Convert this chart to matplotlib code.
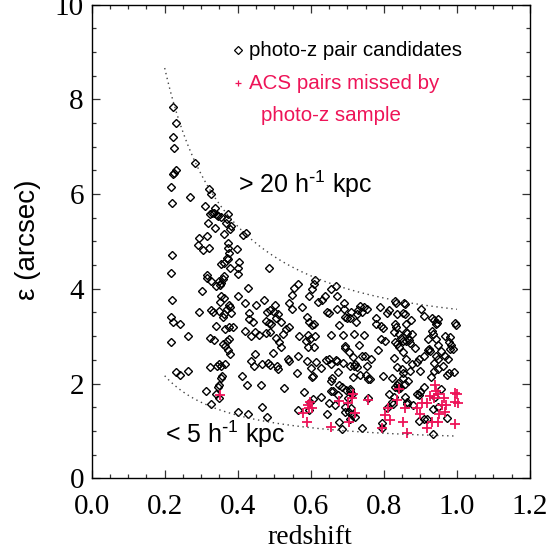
import numpy as np
import matplotlib
matplotlib.use("Agg")
import matplotlib.pyplot as plt
from matplotlib.ticker import MultipleLocator, FormatStrFormatter

# ---------------- data ----------------
# photo-z pair candidates: redshift, separation (arcsec)
pz_z = [0.223, 0.232, 0.224, 0.226, 0.282, 0.230, 0.226, 0.222, 0.217, 0.219,
        0.268, 0.221, 0.218, 0.219, 0.217, 0.223, 0.241, 0.216, 0.264, 0.230,
        0.243, 0.265,
        0.322, 0.326, 0.311, 0.338, 0.323, 0.330, 0.336, 0.344, 0.318, 0.338,
        0.316, 0.293, 0.291, 0.305, 0.320, 0.317, 0.315, 0.326, 0.340, 0.303,
        0.327, 0.332, 0.293, 0.341, 0.325, 0.335, 0.323, 0.312, 0.327, 0.340,
        0.344,
        0.353, 0.346, 0.374, 0.371, 0.369, 0.382, 0.379, 0.363, 0.374, 0.374,
        0.377, 0.370, 0.354, 0.361, 0.372, 0.378, 0.361, 0.348, 0.354, 0.351,
        0.360, 0.355, 0.361, 0.351, 0.375, 0.380, 0.371, 0.348, 0.361, 0.359,
        0.381, 0.366, 0.375, 0.388, 0.360, 0.364, 0.371, 0.375, 0.373, 0.379,
        0.350, 0.354, 0.357, 0.354, 0.350, 0.346, 0.350, 0.366,
        0.399, 0.404, 0.402, 0.400, 0.413, 0.423, 0.427, 0.400, 0.420, 0.450,
        0.473, 0.432, 0.432, 0.442, 0.420, 0.411, 0.425, 0.436, 0.445, 0.447,
        0.436, 0.447, 0.465, 0.467, 0.402, 0.428, 0.480, 0.466, 0.459, 0.476,
        0.486, 0.480, 0.489, 0.502, 0.498, 0.511, 0.505, 0.478, 0.486, 0.490,
        0.519, 0.488, 0.505, 0.513, 0.524, 0.533, 0.541, 0.518, 0.497, 0.482,
        0.488, 0.507, 0.511, 0.526, 0.541, 0.549, 0.554, 0.566, 0.548, 0.537,
        0.541, 0.563, 0.566, 0.567,
        0.577, 0.608, 0.611, 0.602, 0.596, 0.619, 0.630, 0.639, 0.656, 0.669,
        0.671, 0.643, 0.650, 0.590, 0.596, 0.603, 0.609, 0.593, 0.588, 0.599,
        0.612, 0.593, 0.610, 0.589, 0.615, 0.600, 0.606, 0.603, 0.582, 0.599,
        0.606, 0.627, 0.565, 0.596, 0.627, 0.641, 0.650, 0.654, 0.655, 0.657,
        0.654, 0.660, 0.649, 0.643,
        0.672, 0.692, 0.690, 0.693, 0.700, 0.708, 0.711, 0.677, 0.689, 0.693,
        0.693, 0.705, 0.715, 0.708, 0.689, 0.675, 0.670, 0.671, 0.678, 0.686,
        0.695, 0.706, 0.707, 0.702, 0.713, 0.674, 0.655, 0.665, 0.693, 0.711,
        0.705, 0.693, 0.713, 0.720, 0.708, 0.677, 0.684, 0.729, 0.735, 0.746,
        0.753, 0.741, 0.727, 0.725, 0.718, 0.722, 0.718, 0.727, 0.734, 0.716,
        0.746, 0.731, 0.740, 0.749, 0.753, 0.751, 0.756, 0.761, 0.756, 0.741,
        0.766,
        0.779, 0.789, 0.779, 0.793, 0.798, 0.809, 0.815, 0.830, 0.832, 0.854,
        0.857, 0.835, 0.852, 0.859, 0.793, 0.804, 0.831, 0.833, 0.828, 0.842,
        0.830, 0.835, 0.847, 0.860, 0.861, 0.852, 0.842, 0.827, 0.835, 0.798,
        0.821, 0.839, 0.835, 0.842, 0.844, 0.830, 0.814, 0.828, 0.808, 0.822,
        0.825, 0.794, 0.794, 0.839, 0.852, 0.857, 0.857, 0.864, 0.862, 0.852,
        0.850, 0.871, 0.861, 0.852, 0.785,
        0.873, 0.863, 0.869, 0.876, 0.861, 0.871, 0.885, 0.876, 0.866, 0.880,
        0.892, 0.895, 0.900, 0.900, 0.892, 0.896, 0.897, 0.910, 0.902, 0.910,
        0.921, 0.926, 0.924, 0.921, 0.931, 0.937, 0.949, 0.946, 0.942, 0.932,
        0.935, 0.943, 0.949, 0.943, 0.948, 0.955, 0.948, 0.930, 0.938, 0.919,
        0.909, 0.935, 0.934, 0.949, 0.940, 0.955, 0.936, 0.911,
        0.968, 0.981, 0.978, 0.984, 0.988, 0.976, 0.979, 0.974, 0.993, 0.995,
        0.997, 0.981, 0.974, 0.968, 0.962]
pz_sep = [7.83, 7.49, 7.21, 6.97, 6.65, 6.50, 6.44, 6.42, 6.14, 5.82,
          5.94, 4.72, 4.34, 3.76, 3.40, 3.30, 3.25, 2.88, 3.01, 2.25,
          2.18, 2.27,
          6.10, 6.01, 5.75, 5.70, 5.57, 5.60, 5.60, 5.55, 5.38, 5.28,
          5.12, 5.07, 4.92, 4.81, 4.87, 4.30, 4.23, 4.17, 4.05, 3.95,
          3.56, 3.50, 3.50, 3.22, 2.97, 2.91, 2.35, 1.84, 1.56, 1.79,
          2.38,
          5.52, 5.54, 5.57, 5.47, 5.39, 5.33, 5.26, 5.16, 4.96, 4.87,
          4.75, 4.66, 4.52, 4.55, 4.63, 4.43, 4.28, 4.16, 4.12, 4.08,
          4.20, 3.85, 3.80, 3.73, 3.65, 3.62, 3.58, 3.54, 3.46, 3.41,
          3.49, 3.15, 3.20, 3.20, 2.83, 2.80, 2.89, 2.94, 2.70, 2.62,
          2.41, 2.38, 2.16, 2.11, 1.98, 1.92, 1.69, 2.41,
          4.83, 4.57, 4.43, 4.31, 5.14, 5.17, 4.01, 3.85, 3.69, 3.65,
          3.76, 3.49, 3.36, 3.29, 3.11, 2.15, 1.97, 2.47, 2.37, 2.63,
          3.01, 3.08, 1.98, 1.51, 1.40, 1.36, 1.29, 2.41, 3.02, 3.07,
          4.43, 3.52, 3.56, 3.66, 3.52, 3.46, 3.38, 3.31, 3.28, 3.26,
          3.30, 3.08, 2.97, 2.87, 3.04, 3.15, 3.19, 2.78, 2.65, 2.43,
          2.39, 2.37, 2.30, 1.90, 3.70, 3.86, 4.02, 4.11, 3.58, 2.52,
          2.48, 2.22, 2.59, 3.00,
          3.62, 4.11, 4.18, 3.99, 3.84, 3.73, 3.77, 3.85, 3.99, 4.05,
          3.85, 3.52, 3.49, 3.40, 3.30, 3.23, 3.25, 3.03, 2.89, 2.93,
          3.00, 2.78, 2.78, 2.48, 2.46, 2.33, 2.16, 2.13, 1.83, 1.62,
          1.67, 1.72, 1.44, 1.44, 2.33, 2.50, 2.52, 2.41, 3.03, 2.11,
          2.05, 1.85, 1.59, 1.36,
          3.58, 3.70, 3.58, 3.41, 3.39, 3.38, 3.52, 3.24, 3.03, 2.79,
          2.76, 2.67, 2.56, 2.37, 2.43, 2.24, 2.50, 2.48, 1.98, 1.92,
          1.87, 1.85, 1.89, 1.70, 1.79, 1.76, 1.85, 1.55, 1.51, 1.48,
          1.40, 1.40, 1.33, 1.29, 1.25, 1.18, 1.04, 3.56, 3.64, 3.62,
          3.58, 3.52, 3.47, 3.29, 3.04, 2.41, 2.37, 2.35, 2.18, 2.13,
          3.02, 2.82, 2.59, 2.58, 2.37, 2.18, 2.09, 2.09, 1.70, 1.07,
          2.52,
          3.39, 3.62, 3.25, 3.21, 3.17, 3.49, 3.56, 3.75, 3.70, 3.71,
          3.67, 3.47, 3.49, 3.46, 2.93, 2.89, 3.25, 3.20, 3.08, 3.04,
          2.87, 2.83, 2.97, 3.08, 3.26, 2.89, 2.78, 2.53, 2.35, 2.15,
          2.12, 2.01, 1.96, 1.92, 1.90, 1.92, 1.77, 1.71, 1.49, 1.62,
          1.56, 1.16, 1.07, 1.90, 2.11, 2.00, 1.71, 1.62, 1.56, 2.22,
          2.30, 2.27, 2.52, 2.67, 2.70,
          3.35, 3.07, 2.91, 3.04, 2.89, 2.85, 2.74, 2.41, 2.06, 1.55,
          2.46, 2.51, 2.26, 1.83, 1.79, 1.76, 1.20, 1.92, 3.58, 3.43,
          2.70, 2.69, 2.73, 2.93, 3.39, 3.34, 3.36, 3.28, 3.25, 3.11,
          3.04, 2.93, 2.82, 2.59, 2.52, 2.68, 2.30, 2.13, 2.26, 1.25,
          1.25, 1.46, 0.94, 1.51, 1.71, 1.89, 2.44, 2.59,
          3.00, 2.98, 2.87, 2.82, 2.73, 2.52, 2.22, 2.18, 2.24, 3.28,
          3.24, 2.73, 1.27, 2.59, 2.37]

# ACS pairs missed by the photo-z sample
acs_z = [0.351, 0.579, 0.590, 0.593, 0.598, 0.595, 0.602, 0.654, 0.677, 0.701,
         0.713, 0.716, 0.705, 0.721, 0.756, 0.794, 0.802, 0.810, 0.818, 0.835,
         0.842, 0.852, 0.859, 0.864, 0.890, 0.900, 0.904, 0.919, 0.926, 0.919,
         0.933, 0.941, 0.943, 0.948, 0.938, 0.948, 0.952, 0.959, 0.967, 0.969,
         0.965, 0.995, 1.000, 0.994, 1.002, 0.995]
acs_sep = [1.76, 1.38, 1.19, 1.55, 1.62, 1.49, 1.48, 1.09, 1.64, 1.59,
           1.70, 1.77, 1.18, 1.38, 1.66, 1.07, 1.33, 1.49, 1.24, 1.66,
           1.89, 1.19, 1.48, 0.95, 1.48, 1.36, 1.59, 1.59, 1.74, 1.07,
           1.18, 1.96, 1.85, 1.77, 1.70, 1.18, 1.36, 1.55, 1.40, 1.55,
           1.70, 1.81, 1.79, 1.62, 1.60, 1.14]

# projected separation limits (h^-1 kpc) and the redshift range of the curves
sep_limits_kpc = [20.0, 5.0]
curve_zmin, curve_zmax = 0.2, 1.0
omega_m, omega_l = 0.3, 0.7

x_ticks = [0.0, 0.2, 0.4, 0.6, 0.8, 1.0, 1.2]
y_ticks = [0, 2, 4, 6, 8, 10]


def angular_sep_arcsec(z, sep_kpc):
    """Angle subtended by a physical separation (h^-1 kpc) at redshift z."""
    dh = 2997.92458e3  # Hubble distance, h^-1 kpc
    zz = np.linspace(0.0, z, 2001)
    ez = np.sqrt(omega_m * (1 + zz) ** 3 + omega_l)
    dc = dh * np.trapezoid(1.0 / ez, zz)
    da = dc / (1 + z)
    return sep_kpc / da * 206264.806


# ---------------- figure ----------------
plt.rcParams['mathtext.default'] = 'regular'
sans = 'Liberation Sans'
serif = 'Liberation Serif'
red = '#EE1458'

fig = plt.figure(figsize=(5.49, 5.56), dpi=100)
ax = fig.add_axes([0.1669, 0.1397, 0.7985, 0.8522])

ax.plot(pz_z, pz_sep, linestyle='none', marker='D', ms=4.1,
        mfc='none', mec='black', mew=1.0)
ax.plot(acs_z, acs_sep, linestyle='none', marker='+', ms=7.0,
        mec=red, mew=1.3)

zc = np.linspace(curve_zmin, curve_zmax, 200)
for s in sep_limits_kpc:
    th = [angular_sep_arcsec(z, s) for z in zc]
    ax.plot(zc, th, color='#444444', lw=1.0, linestyle=(0, (1, 2.6)))

ax.set_xlim(0.0, 1.2)
ax.set_ylim(0.0, 10.0)
ax.set_xticks(x_ticks)
ax.set_yticks(y_ticks)
ax.xaxis.set_major_formatter(FormatStrFormatter('%.1f'))
ax.yaxis.set_major_formatter(FormatStrFormatter('%d'))
ax.xaxis.set_minor_locator(MultipleLocator(0.05))
ax.yaxis.set_minor_locator(MultipleLocator(0.5))
ax.tick_params(which='both', direction='in', top=True, right=True,
               color='#333333', width=0.9)
ax.tick_params(which='major', length=6.0)
ax.tick_params(which='minor', length=3.0)
ax.tick_params(axis='x', which='major', pad=11.5)
ax.tick_params(axis='y', which='major', pad=5.5)
for lab in ax.get_xticklabels() + ax.get_yticklabels():
    lab.set_fontfamily(serif)
    lab.set_fontsize(21)
for sp in ax.spines.values():
    sp.set_linewidth(1.0)

ax.set_xlabel('redshift', fontfamily=serif, fontsize=20)
ax.xaxis.label.set_va('center')
ax.xaxis.set_label_coords(0.498, -0.124)
ax.set_ylabel('ε (arcsec)', fontfamily=sans, fontsize=20)
ax.yaxis.label.set_va('center')
ax.yaxis.set_label_coords(-0.146, 0.503)

# legend (drawn in data coordinates, as in the original)
ax.plot([0.4016], [9.04], linestyle='none', marker='D', ms=3.6,
        mfc='none', mec='black', mew=0.9)
ax.text(0.432, 8.92, 'photo-z pair candidates', fontfamily=sans,
        fontsize=14.8, color='black', va='baseline', ha='left')
ax.plot([0.4016], [8.35], linestyle='none', marker='+', ms=4.5,
        mec=red, mew=0.9)
ax.text(0.432, 8.22, 'ACS pairs missed by', fontfamily=sans,
        fontsize=14.8, color=red, va='baseline', ha='left')
ax.text(0.464, 7.55, 'photo-z sample', fontfamily=sans,
        fontsize=14.8, color=red, va='baseline', ha='left')

ax.text(0.401, 6.03, r'> 20 h$^{\text{-}1}$ kpc', fontfamily=sans,
        fontsize=18, va='baseline', ha='left')
ax.text(0.200, 0.74, r'< 5 h$^{\text{-}1}$ kpc', fontfamily=sans,
        fontsize=18, va='baseline', ha='left')

fig.savefig('out.png', dpi=100)
